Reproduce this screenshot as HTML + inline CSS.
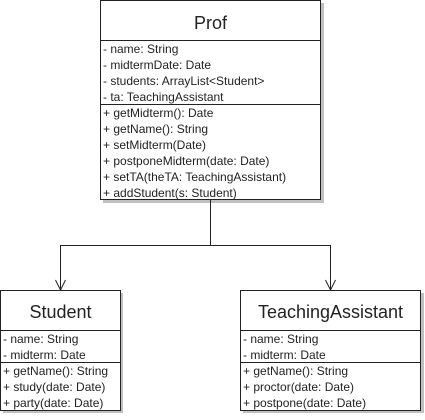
<!DOCTYPE html>
<html><head><meta charset="utf-8"><style>
html,body{margin:0;padding:0;background:#fff;}
svg text{font-family:"Liberation Sans",Arial,sans-serif;fill:#222;}
</style></head><body>
<svg width="425" height="415" xmlns="http://www.w3.org/2000/svg">
<g fill="#c0c0c0">
<rect x="103" y="3" width="221" height="200"/>
<rect x="3" y="293" width="120" height="120"/>
<rect x="243" y="293" width="181" height="120"/>
</g>
<g fill="#fff" stroke="#222" stroke-width="1">
<rect x="100.5" y="0.5" width="220" height="199"/>
<rect x="0.5" y="290.5" width="120" height="120"/>
<rect x="240.5" y="290.5" width="180" height="120"/>
</g>
<g stroke="#222" stroke-width="1" fill="none">
<line x1="100" y1="40.5" x2="321" y2="40.5"/>
<line x1="100" y1="104.5" x2="321" y2="104.5"/>
<line x1="0" y1="330.5" x2="121" y2="330.5"/>
<line x1="0" y1="362.5" x2="121" y2="362.5"/>
<line x1="240" y1="330.5" x2="421" y2="330.5"/>
<line x1="240" y1="362.5" x2="421" y2="362.5"/>
<polyline points="210.5,200 210.5,245.5 60.5,245.5 60.5,290"/>
<polyline points="210.5,245.5 330.5,245.5 330.5,290"/>
<polyline points="55.5,280 60.5,290 65.5,280"/>
<polyline points="325.5,280 330.5,290 335.5,280"/>
</g>
<text x="210.5" y="29" font-size="18" text-anchor="middle">Prof</text>
<g font-size="12">
<text x="103" y="53">- name: String</text>
<text x="103" y="69">- midtermDate: Date</text>
<text x="103" y="85">- students: ArrayList&lt;Student&gt;</text>
<text x="103" y="101">- ta: TeachingAssistant</text>
<text x="103" y="117">+ getMidterm(): Date</text>
<text x="103" y="133">+ getName(): String</text>
<text x="103" y="149">+ setMidterm(Date)</text>
<text x="103" y="165">+ postponeMidterm(date: Date)</text>
<text x="103" y="181">+ setTA(theTA: TeachingAssistant)</text>
<text x="103" y="197">+ addStudent(s: Student)</text>
</g>
<text x="60.5" y="318" font-size="18" text-anchor="middle">Student</text>
<text x="330.5" y="318" font-size="18" text-anchor="middle">TeachingAssistant</text>
<g font-size="12">
<text x="3" y="343">- name: String</text>
<text x="3" y="359">- midterm: Date</text>
<text x="3" y="375">+ getName(): String</text>
<text x="3" y="391">+ study(date: Date)</text>
<text x="3" y="407">+ party(date: Date)</text>
<text x="243" y="343">- name: String</text>
<text x="243" y="359">- midterm: Date</text>
<text x="243" y="375">+ getName(): String</text>
<text x="243" y="391">+ proctor(date: Date)</text>
<text x="243" y="407">+ postpone(date: Date)</text>
</g>
</svg>
</body></html>
